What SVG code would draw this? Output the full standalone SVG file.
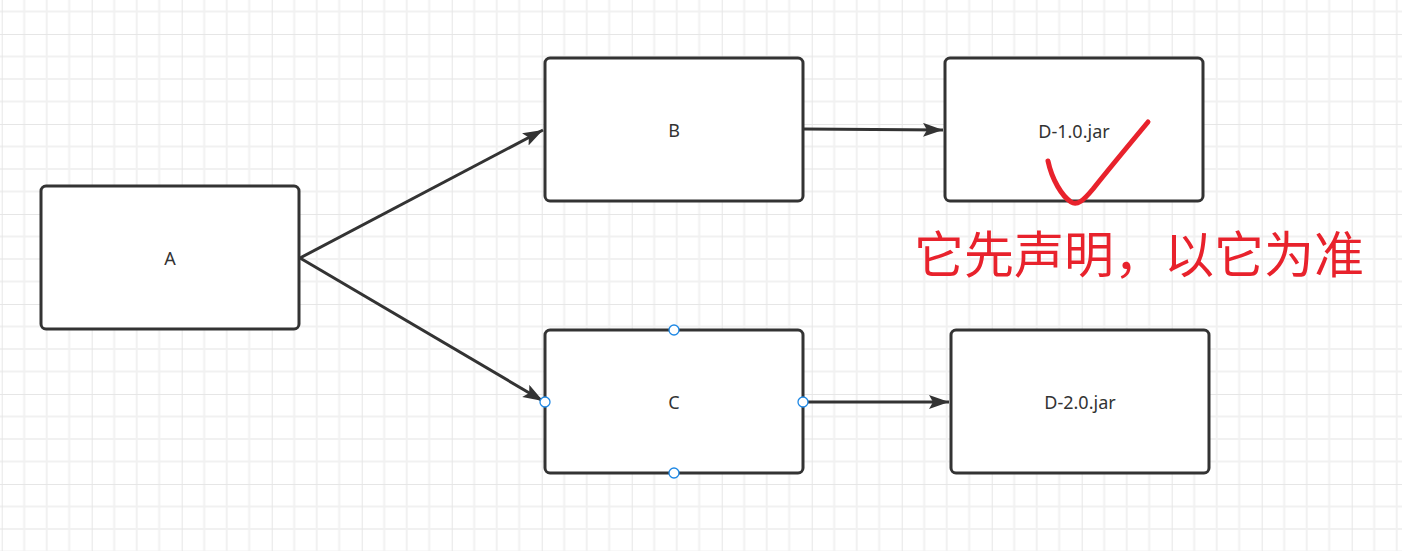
<svg xmlns="http://www.w3.org/2000/svg" width="1402" height="551" viewBox="0 0 1402 551">
  <style>
    .box { fill: #ffffff; stroke: #333333; stroke-width: 3; }
    .label { font-family: "Noto Sans", "Liberation Sans", sans-serif; font-size: 18px; fill: #333333; text-anchor: middle; dominant-baseline: central; }
    .edge { fill: none; stroke: #333333; stroke-width: 3; }
    .handle { fill: #ffffff; stroke: #1e88e5; stroke-width: 1.3; }
    .note { font-family: "Noto Sans CJK SC", "Noto Sans", sans-serif; font-size: 50px; fill: #e8222c; }
  </style>
  <defs>
    <pattern id="grid" patternUnits="userSpaceOnUse" x="1.7" y="34" width="90" height="90">
      <path d="M22.5 0V90M45 0V90M67.5 0V90M0 22.5H90M0 45H90M0 67.5H90" stroke="#f1f1f1" stroke-width="2" fill="none"/>
      <path d="M0 0V90M0 0H90" stroke="#e6e6e6" stroke-width="2" fill="none"/>
    </pattern>
    <marker id="arrow" markerUnits="userSpaceOnUse" markerWidth="22" markerHeight="16" refX="20" refY="7" orient="auto">
      <path d="M0 0L20 7L0 14L4 7Z" fill="#333333"/>
    </marker>
  </defs>

  <!-- background canvas -->
  <rect width="1402" height="551" fill="#ffffff"/>
  <rect width="1402" height="551" fill="url(#grid)"/>

  <!-- connectors -->
  <g id="connectors">
    <path class="edge" d="M300 258L543 130" marker-end="url(#arrow)"/>
    <path class="edge" d="M300 258L543 401" marker-end="url(#arrow)"/>
    <path class="edge" d="M804 129L943 130" marker-end="url(#arrow)"/>
    <path class="edge" d="M804 402L949 402" marker-end="url(#arrow)"/>
  </g>

  <g id="node-a">
    <rect class="box" x="41" y="186" width="258" height="143" rx="5"/>
    <text class="label" x="170" y="258">A</text>
  </g>
  <g id="node-b">
    <rect class="box" x="545" y="58" width="258" height="143" rx="5"/>
    <text class="label" x="674" y="130">B</text>
  </g>
  <g id="node-c">
    <rect class="box" x="545" y="330" width="258" height="143" rx="5"/>
    <text class="label" x="674" y="402">C</text>
    <circle class="handle" cx="674" cy="330" r="5"/>
    <circle class="handle" cx="545" cy="402" r="5"/>
    <circle class="handle" cx="803" cy="402" r="5"/>
    <circle class="handle" cx="674" cy="473" r="5"/>
  </g>
  <g id="node-d1">
    <rect class="box" x="945" y="58" width="258" height="143" rx="5"/>
    <text class="label" x="1074" y="131">D-1.0.jar</text>
  </g>
  <g id="node-d2">
    <rect class="box" x="951" y="330" width="258" height="143" rx="5"/>
    <text class="label" x="1080" y="402">D-2.0.jar</text>
  </g>

  <!-- hand-drawn check mark and annotation -->
  <g id="annotation">
    <path d="M1048 161C1052 180 1062 196 1071 202C1077 206 1083 201 1093 189C1108 170 1128 146 1148 122" fill="none" stroke="#e8222c" stroke-width="5" stroke-linecap="round" stroke-linejoin="round"/>
    <text class="note" x="914" y="273">它先声明，以它为准</text>
  </g>
</svg>
